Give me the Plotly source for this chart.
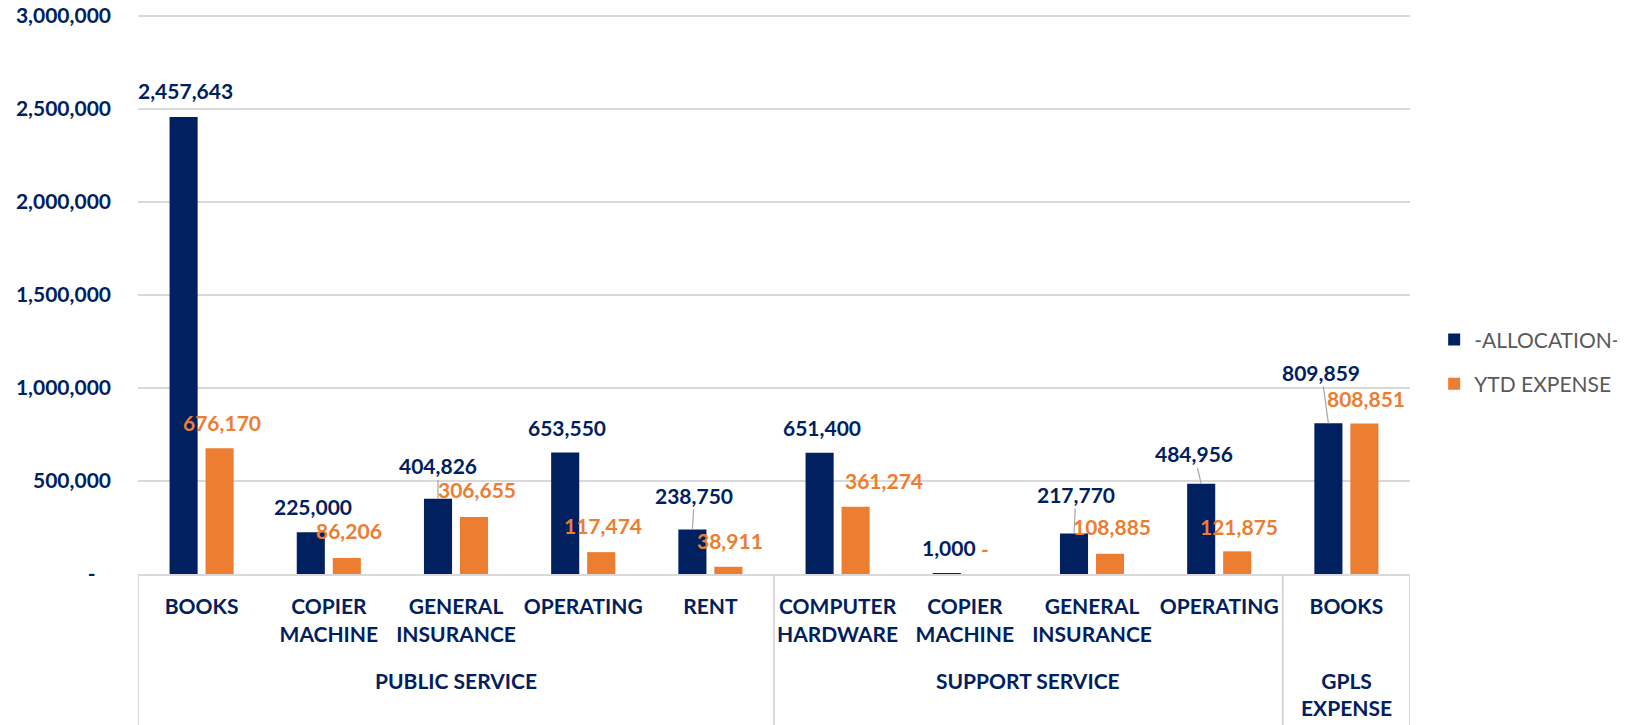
import plotly.graph_objects as go

# ---------------- data ----------------
sub_labels = ["BOOKS", "COPIER<br>MACHINE", "GENERAL<br>INSURANCE", "OPERATING", "RENT",
              "COMPUTER<br>HARDWARE", "COPIER<br>MACHINE", "GENERAL<br>INSURANCE", "OPERATING",
              "BOOKS"]
group_labels = ["PUBLIC SERVICE", "SUPPORT SERVICE", "GPLS<br>EXPENSE"]
group_sizes = [5, 4, 1]
allocation = [2457643, 225000, 404826, 653550, 238750, 651400, 1000, 217770, 484956, 809859]
ytd_expense = [676170, 86206, 306655, 117474, 38911, 361274, 0, 108885, 121875, 808851]
y_tickvals = [0, 500000, 1000000, 1500000, 2000000, 2500000, 3000000]
y_ticktext = ["-\u00a0\u00a0\u00a0", "500,000", "1,000,000", "1,500,000", "2,000,000", "2,500,000", "3,000,000"]
series_names = ["-ALLOCATION-", "YTD EXPENSE"]
y_max = 3000000

# ---------------- label placement (pixel offsets) ----------------
alloc_dx = [2, 2, 0, 2, 2, 2, 2, 2, -7, -7]
alloc_dy = [26, 26, 33, 25, 34, 25, 26, 39, 30, 51]
alloc_leader = [False, False, True, False, True, False, False, True, True, True]
ytd_dx = [2, 2, 3, 2, 2, 28, 2, 2, 2, 2]
ytd_dy = [26, 27, 27, 27, 26, 26, 26, 27, 25, 25]

# ---------------- styles ----------------
NAVY = "#002060"
ORANGE = "#ED7D31"
GRID = "#D9D9D9"
FONT = "Lato, 'Open Sans', sans-serif"
BARGAP = 0.434
BARGROUPGAP = 0.22

x = list(range(len(sub_labels)))


def fmt(v):
    return "-" if v == 0 else f"{v:,}"


fig = go.Figure()
fig.add_trace(go.Bar(x=x, y=allocation, name=series_names[0], marker=dict(color=NAVY, line=dict(width=0)),
                     legendgroup="a"))
fig.add_trace(go.Bar(x=x, y=ytd_expense, name=series_names[1], marker=dict(color=ORANGE, line=dict(width=0)),
                     legendgroup="b"))

half = (1 - BARGAP) / 4.0
annotations = []
for i, v in enumerate(allocation):
    a = dict(x=i - half, y=v, xref="x", yref="y", text=fmt(v),
             font=dict(family=FONT, size=21, color=NAVY, weight="bold"))
    if alloc_leader[i]:
        a.update(showarrow=True, ax=alloc_dx[i], ay=-alloc_dy[i], arrowhead=0, arrowwidth=1.2,
                 arrowcolor="#A6A6A6", standoff=0, startstandoff=0)
    else:
        a.update(showarrow=False, xshift=alloc_dx[i], yshift=alloc_dy[i], yanchor="middle")
    annotations.append(a)
for i, v in enumerate(ytd_expense):
    annotations.append(dict(x=i + half, y=v, xref="x", yref="y", text=fmt(v), showarrow=False,
                            xshift=ytd_dx[i], yshift=ytd_dy[i], yanchor="middle",
                            font=dict(family=FONT, size=21, color=ORANGE, weight="bold")))

# group labels and dividers
shapes = []
start = 0
bounds = [-0.5]
for g, n in zip(group_labels, group_sizes):
    center = start + (n - 1) / 2.0
    annotations.append(dict(x=center, y=0, xref="x", yref="paper", text=g, showarrow=False,
                            yanchor="top", yshift=-92,
                            font=dict(family=FONT, size=21, color=NAVY, weight="bold")))
    start += n
    bounds.append(start - 0.5)
for b in bounds:
    shapes.append(dict(type="line", xref="x", yref="paper", x0=b, x1=b, y0=0, y1=-0.5,
                       line=dict(color=GRID, width=2)))

fig.update_layout(
    template="none",
    width=1625, height=725,
    margin=dict(l=130, r=223, t=6, b=159, autoexpand=False),
    paper_bgcolor="white", plot_bgcolor="white",
    barmode="group", bargap=BARGAP, bargroupgap=BARGROUPGAP,
    font=dict(family=FONT, size=21, color=NAVY),
    showlegend=True,
    legend=dict(x=1.019, xanchor="left", y=0.379, yanchor="middle",
                font=dict(family=FONT, size=21, color="#595959"),
                tracegroupgap=14, bgcolor="rgba(0,0,0,0)"),
    annotations=annotations,
    shapes=shapes,
)
fig.update_xaxes(range=[-0.5, len(x) - 0.5], tickmode="array", tickvals=x, ticktext=sub_labels,
                 showgrid=False, zeroline=False, showline=True, linecolor=GRID, linewidth=2,
                 ticks="", ticklabelstandoff=13, automargin=False, ticklabeloverflow="allow",
                 tickfont=dict(family=FONT, size=21, color=NAVY, weight="bold"))
fig.update_yaxes(range=[0, y_max * 1.0036], tickmode="array", tickvals=y_tickvals, ticktext=y_ticktext,
                 showgrid=True, gridcolor=GRID, gridwidth=2, zeroline=False, showline=False,
                 ticks="", ticklabelstandoff=26, automargin=False, ticklabeloverflow="allow",
                 tickfont=dict(family=FONT, size=21, color=NAVY, weight="bold"))

fig.write_html("out.html")
